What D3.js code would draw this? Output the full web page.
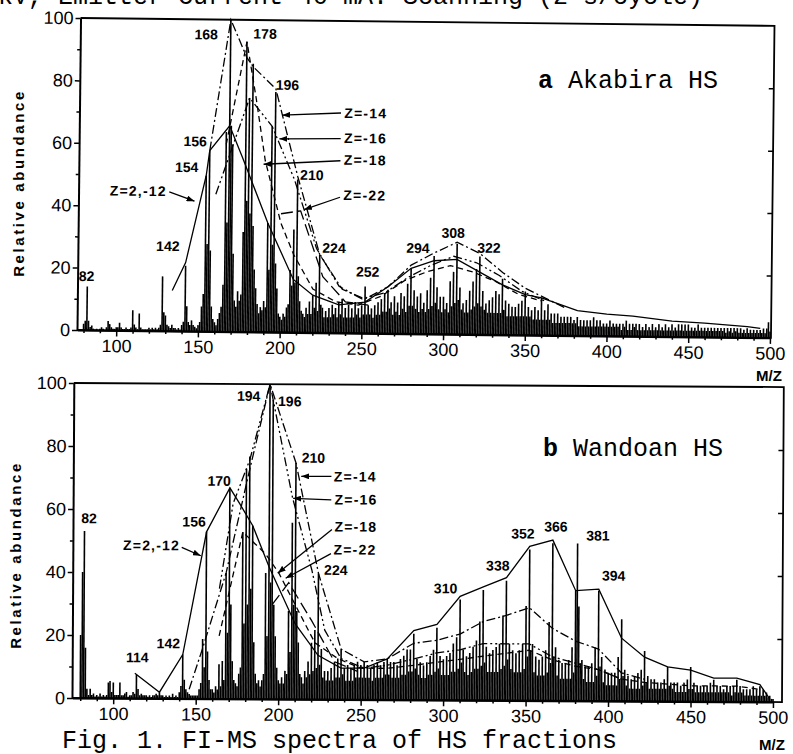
<!DOCTYPE html>
<html>
<head>
<meta charset="utf-8">
<script src="https://cdn.jsdelivr.net/npm/d3@7"></script>
<style>
  body { margin: 0; background: #fff; }
  svg { display: block; }
</style>
</head>
<body>
<div id="chart"></div>
<script>
// m/z channels, one value per integer mass
const mzA = d3.range(80, 501);
const mzB = d3.range(80, 501);

// a Akabira HS, relative abundance for m/z 80..500
const abundA = [
  2,3,14,3,1,1.5,0.5,0,0.5,0,
  0.5,1,0.5,0,1,3,2,1,0.5,0.5,
  1,1,2.5,1,0.5,0.5,1,0.5,0.5,1,
  6.5,2,1,0.5,5.5,1,0.5,0.5,0.5,0.5,
  1,0.5,1,0.5,1,0.5,1,2,17.5,6,
  5,2,1.5,1,2,1,1,0.5,1,0.5,
  2,3,21,8,3,2,3.5,2,1.5,1,
  2,3,8,12,50,28,58,26,8,4,
  3,2,4,6,8,15,64,35,100,66,
  60,25,10,8,13,10,12,32,93,42,
  75,38,86,34,20,14,9,6,8,7,
  10,8,35,20,66,28,77,22,14,6,
  5,4,6,5,8,9,20,15,33,16,
  49,18,10,7,6,5,8,6,10,6,
  12,8,16,7,25,9,8,5,7,5,
  8,5,9,6,8,5,10,6,11,5,
  8,5,9,5,8,5,10,6,8,5,
  9,6,15,6,9,6,8,5,9,6,
  10,6,11,7,13,7,14,8,10,6,
  12,7,10,6,13,8,12,7,16,9,
  21,9,14,8,12,7,13,8,10,7,
  14,8,18,9,25,10,15,8,12,7,
  12,8,10,7,17,9,20,10,29,11,
  15,8,10,7,11,7,14,8,17,9,
  21,10,25,9,14,8,10,7,11,7,
  12,7,14,7,13,7,18,8,11,6,
  10,6,9,6,9,6,10,6,11,6,
  14,6,9,6,8,5,9,5,8,5,
  12,5,8,5,10,5,7,4,7,4,
  7,4,6,4,6,4,6,4,6,4,
  5,4,6,3,5,3,5,3,5,3,
  5,3,6,3,5,3,5,3,4,3,
  4,3,5,3,4,3,4,3,4,2,
  4,3,5,2,4,2,4,3,4,2,
  4,2,3,2,4,2,3,2,4,2,
  3,2,4,2,3,2,4,2,3,2,
  4,2,3,2,4,2,4,2,4,2,
  4,2,3,2,3,2,4,2,3,2,
  3,2,3,2,3,2,3,2,3,2,
  3,2,3,1.5,3,2,3,1.5,3,2,
  3,1.5,3,1.5,2.5,1.5,3,1.5,2.5,1.5,
  2.5,1.5,2.5,1.5,2.5,1.5,3,1.5,3,5,
  2
];

// b Wandoan HS, relative abundance for m/z 80..500
const abundB = [
  20,40,53,16,3,1,3,1,1.5,0.5,
  1,0.5,1.5,0.5,1,0.5,1,5,5.5,2,
  5,1,1,1,5,1,1,1.5,2,0.5,
  1,1,2,1.5,7.5,3,1,1.5,1,1,
  1,0.5,1,0.5,1,1,1.5,1,2,1,
  1,0.5,1,0.5,1,0.5,1.5,0.5,1,0.5,
  2,4,14,6,3,2,1.5,1,1,1,
  1,1,3,5,19,10,53,15,6,3,
  3,2,4,3,11,4,12,6,40,21,
  67,30,12,6,5,4,8,10,53,24,
  73,30,77,35,55,18,8,5,6,4,
  6,8,40,20,100,37,95,30,20,10,
  6,5,7,5,9,8,28,15,56,30,
  75,28,18,8,7,5,9,7,12,8,
  18,9,22,10,40,11,16,7,9,6,
  9,6,10,6,12,7,13,7,16,8,
  10,6,11,6,10,6,11,7,12,7,
  11,7,12,7,11,7,10,6,11,7,
  12,7,11,7,12,8,13,8,12,7,
  12,7,11,7,13,8,14,8,16,9,
  16,9,21,10,13,8,12,7,11,7,
  12,8,14,8,16,9,23,10,14,8,
  13,8,14,8,15,9,18,9,20,10,
  32,12,16,9,14,8,15,9,17,10,
  19,10,25,11,35,12,17,9,15,9,
  16,9,17,9,18,10,27,11,38,13,
  18,10,16,9,15,9,16,9,18,10,
  30,14,48,16,18,9,14,8,13,8,
  14,8,16,9,25,12,50,14,17,8,
  13,7,12,7,12,7,13,7,17,9,
  35,50,30,12,13,7,11,6,11,6,
  12,6,17,8,35,11,14,6,10,5,
  9,5,9,5,9,5,14,7,26,8,
  10,5,8,4,7,4,8,4,9,4,
  10,5,16,6,8,4,7,4,7,4,
  6,4,6,4,7,4,11,5,6,4,
  6,3,6,3,5,3,6,3,7,4,
  11,4,6,3,5,3,5,3,5,3,
  5,3,6,3,7,3,5,3,5,3,
  4,3,5,3,5,2,5,3,7,3,
  5,3,4,2,4,2,4,2,5,2,
  4,2,5,2,4,2,3,1.5,2,1,
  1
];

// envelope lines [m/z, abundance]
const zA2  = [[134,13],[142,22],[154,50],[156,58],[168,66],[176,56],[192,35],[208,17],[220,12],[236,9],[252,10],[266,15],[280,21],[294,23.5],[308,24],[322,20],[336,16],[350,13],[360,12],[382,8],[400,7],[416,6.5],[440,5],[460,4.5],[486,3.5],[494,3]];
const zA14 = [[156,58],[168,100],[178,88],[182,85],[196,78],[210,50],[224,25],[238,14],[252,11],[266,15],[280,22],[294,26],[308,29.5],[322,26],[336,20],[350,15],[362,12],[374,9]];
const zA16 = [[160,44],[180,75],[194,66],[208,49],[222,27],[236,15],[250,11],[264,13],[278,18],[292,22],[306,25],[320,23],[334,19],[348,14],[362,11]];
const zA18 = [[166,60],[178,93],[184,75],[190,55],[200,35],[208,25],[220,14],[234,10],[248,9],[262,12],[276,17],[290,20],[304,22],[318,20],[332,17],[346,13],[360,11]];
const zA22 = [[200,38],[212,39],[226,18],[240,10],[254,9]];

const zB2  = [[113,8],[128,2],[142,14],[156,53],[170,67],[176,62],[184,55],[194,42],[210,24],[224,14],[238,10],[252,10],[266,13],[282,22],[296,24],[310,33],[324,36],[338,39],[352,49],[366,51],[380,35],[394,35.5],[408,20],[422,14],[436,11],[450,10],[464,7.5],[478,7.5],[492,5.5],[498,1]];
const zB14 = [[146,3],[154,16],[168,40],[182,73],[194,100],[210,75],[224,40],[238,16],[252,12],[266,13],[282,18],[296,19],[310,21],[324,25],[338,27],[352,29.5],[366,23],[380,19],[394,16.5],[408,9],[422,7]];
const zB16 = [[164,35],[172,62],[182,76],[194,100],[208,64],[220,41],[228,22],[238,13],[252,10],[266,11],[282,13],[296,15],[310,16],[324,18],[338,18],[352,18],[366,14],[380,12],[394,10],[408,7]];
const zB18 = [[164,20],[178,53],[192,46],[200,40],[208,32],[222,18],[236,13],[250,10],[266,10],[282,11],[296,12],[310,13],[324,14],[338,15],[352,16],[366,13],[380,11],[394,10],[408,7],[422,6],[436,5.5],[450,5],[464,5],[478,5],[492,4]];
const zB22 = [[196,30],[206,37],[220,25],[234,12],[248,9]];

// peak labels and where they sit (data units)
const labelsA = ['82','142','154','156','168','178','196','210','224','252','294','308','322'];
const labelAtA = [[81.5,17.3],[131,27.2],[142,52.6],[147,60.9],[153,95.2],[189,95.6],[203,79.3],[218.6,50.5],[232.7,27.2],[253.5,19.7],[284,27.5],[305.5,32.5],[327.5,27.8]];
const labelsB = ['82','114','142','156','170','194','196','210','224','310','338','352','366','381','394'];
const labelAtB = [[84.7,57.1],[114.4,13],[133.2,17.5],[148.4,56.2],[163.5,69.2],[181.1,96.2],[206,94.6],[220.5,76.7],[234.5,41.1],[301.1,35.5],[332.7,42.8],[347.8,53],[367.8,55.3],[393.3,52.5],[403,39.8]];

const zNames = ['Z=2,-12','Z=-14','Z=-16','Z=-18','Z=-22'];
const zTextA = [[130,44.8],[238,70.5],[238,62.5],[238,55.5],[238,44.2]];
const zFromA = [[131.5,44.6],[236,70.5],[236,62.3],[236,55.2],[236,43.5]];
const zToA   = [[147,41.7],[200,69.6],[198.5,62],[189,53.8],[214,39.4]];
const zTextB = [[140,48.6],[233,70.8],[233.5,63.5],[233.5,54.9],[233,47.6]];
const zFromB = [[141,48],[231.5,70.8],[231.5,63.4],[232,54],[231.5,46.3]];
const zToB   = [[152.6,45.4],[213.2,70.8],[208.4,63.8],[199.3,40],[204.1,38.4]];

const dashes = [null, '9,3,2,3', '9,3,2,3,2,3', '6,4', '12,5'];

const svg = d3.select('#chart').append('svg')
  .attr('width', 793).attr('height', 754);

const defs = svg.append('defs');
defs.append('marker')
  .attr('id', 'arrow').attr('viewBox', '0 0 8 6')
  .attr('refX', 8).attr('refY', 3)
  .attr('markerWidth', 8).attr('markerHeight', 6)
  .attr('markerUnits', 'userSpaceOnUse').attr('orient', 'auto')
  .append('path').attr('d', 'M0,0L8,3L0,6z').attr('fill', '#000');

const sans = "'Liberation Sans', Arial, sans-serif";
const mono = "'Liberation Mono', 'Courier New', monospace";

function drawPanel(p) {
  const x = d3.scaleLinear().domain(p.xDomain).range([p.left, p.right]);
  const y = d3.scaleLinear().domain([0, 100]).range([p.bottom, p.top]);
  const g = svg.append('g').attr('transform', `rotate(${p.tilt},${p.left},${p.bottom})`);

  // sticks
  g.append('g').selectAll('line')
    .data(p.mz.map((m, i) => [m, p.abund[i]]).filter(d => d[1] > 0))
    .join('line')
    .attr('x1', d => x(d[0])).attr('x2', d => x(d[0]))
    .attr('y1', y(0)).attr('y2', d => y(d[1]))
    .attr('stroke', '#000').attr('stroke-width', 1.6);

  // envelopes
  const line = d3.line().x(d => x(d[0])).y(d => y(d[1]));
  p.env.forEach((e, i) => {
    g.append('path').attr('d', line(e))
      .attr('fill', 'none').attr('stroke', '#000').attr('stroke-width', 1.3)
      .attr('stroke-dasharray', dashes[i]);
  });

  // frame
  g.append('path')
    .attr('d', `M${p.left},${p.top}H${p.frameRight}V${y(0)}H${p.left}`)
    .attr('fill', 'none').attr('stroke', '#000').attr('stroke-width', 1.8);

  const yAxis = g.append('g').attr('transform', `translate(${p.left},0)`)
    .call(d3.axisLeft(y).tickValues([0, 20, 40, 60, 80, 100]).tickSize(5).tickPadding(2).tickSizeOuter(0));
  g.append('g').attr('transform', `translate(${p.left},0)`)
    .call(d3.axisLeft(y).tickValues([10, 30, 50, 70, 90]).tickSize(3).tickFormat('').tickSizeOuter(0))
    .select('.domain').remove();
  g.append('g').attr('transform', `translate(${p.frameRight},0)`)
    .call(d3.axisLeft(y).tickValues([20, 40, 60, 80]).tickSize(5).tickFormat('').tickSizeOuter(0))
    .select('.domain').remove();

  const xAxis = g.append('g').attr('transform', `translate(0,${y(0)})`)
    .call(d3.axisBottom(x).tickValues(d3.range(100, 501, 50)).tickSize(6).tickPadding(3).tickSizeOuter(0));
  g.append('g').attr('transform', `translate(0,${y(0)})`)
    .call(d3.axisBottom(x).tickValues(d3.range(80, 500, 10).filter(v => v % 50 !== 0)).tickSize(3).tickFormat('').tickSizeOuter(0))
    .select('.domain').remove();

  [yAxis, xAxis].forEach(a => {
    a.select('.domain').attr('stroke-width', 2);
    a.selectAll('text').attr('font-family', sans).attr('font-size', 18).attr('fill', '#000');
  });
  g.selectAll('.tick line').attr('stroke-width', 1.5);

  // peak labels
  g.append('g').selectAll('text')
    .data(p.labels)
    .join('text')
    .attr('x', (d, i) => x(p.labelAt[i][0]))
    .attr('y', (d, i) => y(p.labelAt[i][1]))
    .attr('dy', '0.35em')
    .attr('text-anchor', 'middle')
    .attr('font-family', sans).attr('font-weight', 'bold').attr('font-size', 14)
    .text(d => d);

  // Z series callouts
  const zg = g.append('g');
  zNames.forEach((name, i) => {
    zg.append('line')
      .attr('x1', x(p.zFrom[i][0])).attr('y1', y(p.zFrom[i][1]))
      .attr('x2', x(p.zTo[i][0])).attr('y2', y(p.zTo[i][1]))
      .attr('stroke', '#000').attr('stroke-width', 1.3)
      .attr('marker-end', 'url(#arrow)');
    zg.append('text')
      .attr('x', x(p.zText[i][0])).attr('y', y(p.zText[i][1]))
      .attr('dy', '0.35em')
      .attr('text-anchor', i === 0 ? 'end' : 'start')
      .attr('font-family', sans).attr('font-weight', 'bold').attr('font-size', 14)
      .attr('letter-spacing', 1.2)
      .text(name);
  });

  // y title
  svg.append('text')
    .attr('transform', `translate(${p.yTitle[0]},${p.yTitle[1]}) rotate(-90)`)
    .attr('text-anchor', 'middle').attr('dy', '0.35em')
    .attr('font-family', sans).attr('font-weight', 'bold').attr('font-size', 15)
    .attr('letter-spacing', 2.6)
    .text('Relative abundance');

  // M/Z
  svg.append('text')
    .attr('x', p.mzLabel[0]).attr('y', p.mzLabel[1])
    .attr('text-anchor', 'middle')
    .attr('font-family', sans).attr('font-weight', 'bold').attr('font-size', 15)
    .text('M/Z');

  // sample name
  const t = svg.append('text')
    .attr('x', p.name[0]).attr('y', p.name[1])
    .attr('font-family', mono).attr('font-size', 25);
  t.append('tspan').attr('font-weight', 'bold').text(p.letter);
  t.append('tspan').text(' ' + p.sample);
}

drawPanel({
  mz: mzA, abund: abundA, env: [zA2, zA14, zA16, zA18, zA22],
  labels: labelsA, labelAt: labelAtA,
  zText: zTextA, zFrom: zFromA, zTo: zToA,
  xDomain: [76, 500], left: 77, right: 770, frameRight: 771, top: 18, bottom: 330, tilt: 0.65,
  yTitle: [19, 183], mzLabel: [769, 381], name: [538, 88], letter: 'a', sample: 'Akabira HS'
});

drawPanel({
  mz: mzB, abund: abundB, env: [zB2, zB14, zB16, zB18, zB22],
  labels: labelsB, labelAt: labelAtB,
  zText: zTextB, zFrom: zFromB, zTo: zToB,
  xDomain: [75, 500], left: 72, right: 773, frameRight: 782, top: 383, bottom: 698, tilt: 0.33,
  yTitle: [16, 555], mzLabel: [772, 750], name: [543, 456], letter: 'b', sample: 'Wandoan HS'
});

// header remnant and caption
svg.append('text')
  .attr('x', -2).attr('y', 4)
  .attr('font-family', mono).attr('font-size', 25)
  .text('kV, Emitter Current 40 mA. Scanning (2 s/cycle)');

svg.append('text')
  .attr('x', 62).attr('y', 748)
  .attr('font-family', mono).attr('font-size', 25)
  .text('Fig. 1. FI-MS spectra of HS fractions');
</script>
</body>
</html>
